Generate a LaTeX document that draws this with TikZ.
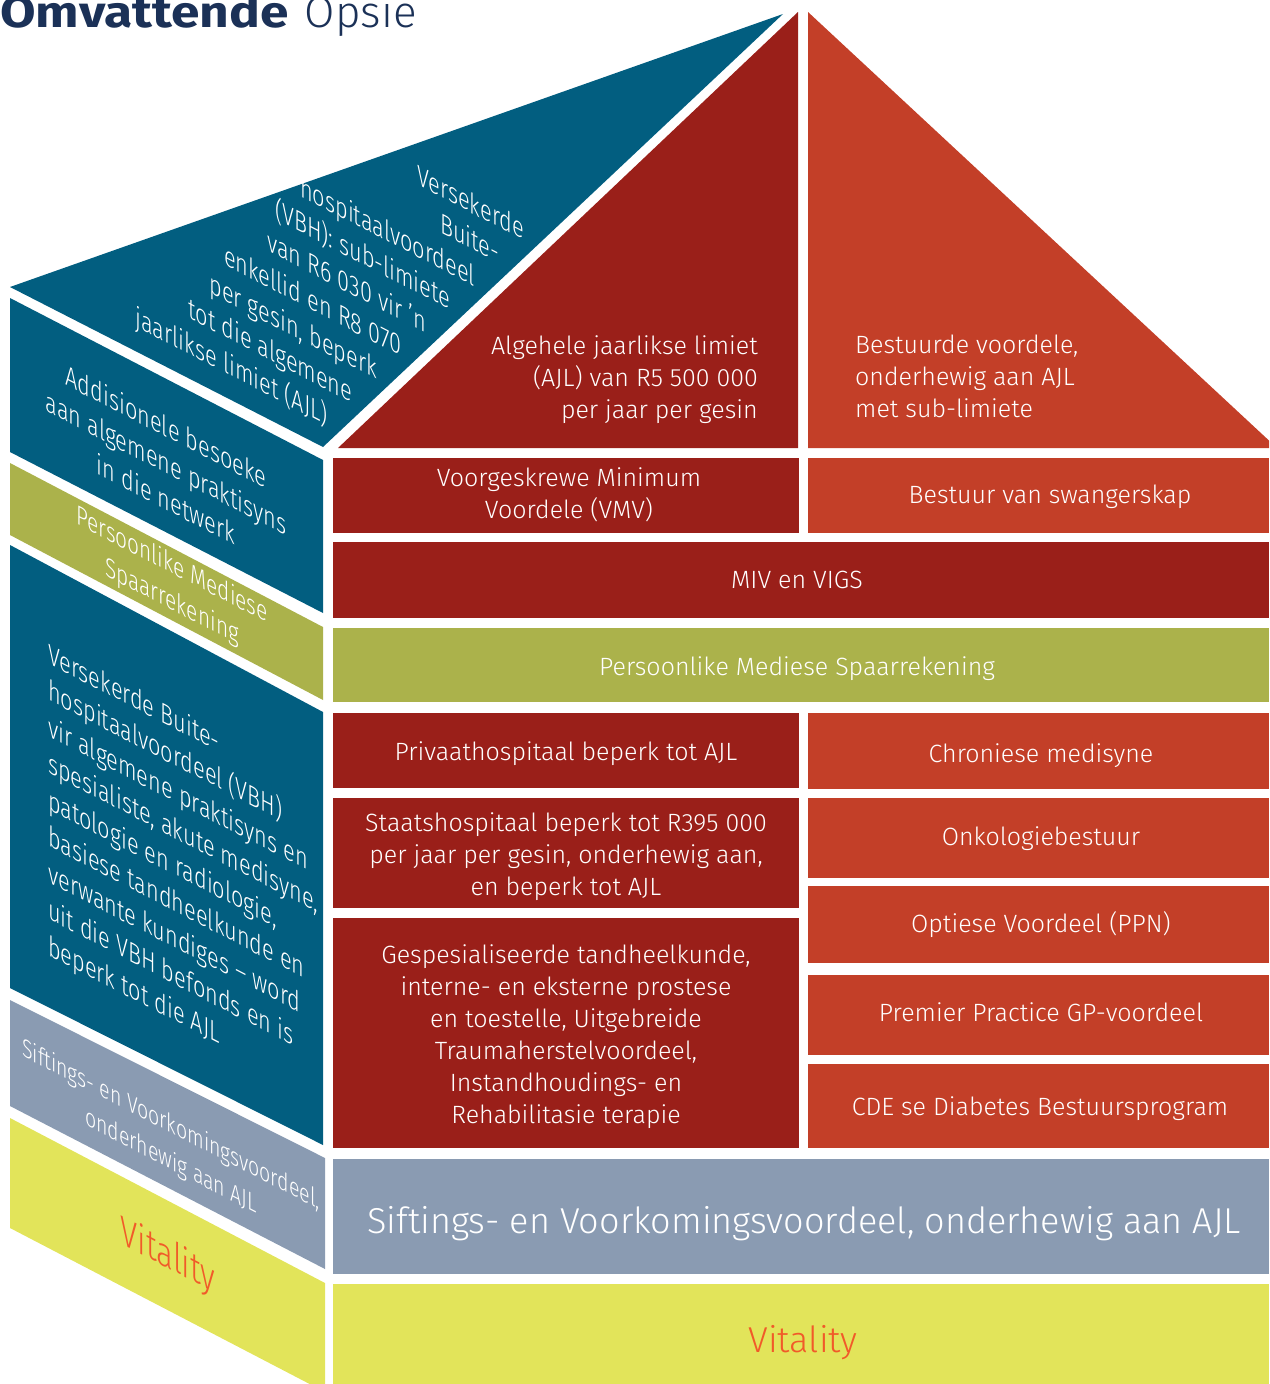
\documentclass[tikz,border=0pt]{standalone}
\usepackage{fontspec}
\IfFontExistsTF{Fira Sans Light}
  {\setmainfont{Fira Sans}[UprightFont={* Light},BoldFont={* Bold}]}
  {\setmainfont{Fira Sans}}
\definecolor{sideblue}{RGB}{2,94,128}
\definecolor{deepred}{RGB}{154,31,25}
\definecolor{brickred}{RGB}{195,63,40}
\definecolor{oliveband}{RGB}{171,178,75}
\definecolor{greyblue}{RGB}{138,155,178}
\definecolor{lemon}{RGB}{226,228,90}
\definecolor{vitorange}{RGB}{241,90,41}
\definecolor{titlenavy}{RGB}{27,49,87}
\tikzset{
  lbl/.style={text=white, inner sep=0pt, font=\fontsize{25}{32}\selectfont},
  sidelbl/.style={lbl, cm={0.87,-0.45,0,1.14,(0,0)}},
}
\begin{document}
\begin{tikzpicture}[x=1pt,y=-1pt]
\clip (0,0) rectangle (1269,1384);

% title
\node[anchor=base west, inner sep=0pt, text=titlenavy, font=\fontsize{44}{50}\selectfont]
  (title) at (0,27) {\scalebox{1.17}[1]{\bfseries Omvattende}\hspace{4pt} Opsie};

% ---- side face (left) ----
\fill[sideblue] (10,287) -- (783,14) -- (323,447) -- cycle;
\fill[sideblue] (10,298) -- (323,460) -- (323,613) -- (10,452) -- cycle;
\fill[oliveband] (10,463) -- (323,627) -- (323,700) -- (10,535) -- cycle;
\fill[sideblue] (10,545) -- (323,712) -- (323,1145) -- (10,988) -- cycle;
\fill[greyblue] (10,1000) -- (325,1158) -- (325,1269) -- (10,1106) -- cycle;
\fill[lemon] (10,1118) -- (325,1283) -- (325,1392) -- (10,1228) -- cycle;

% ---- front face ----
\fill[deepred] (338,448) -- (798,12) -- (798,448) -- cycle;
\fill[brickred] (808,12) -- (1277,448) -- (808,448) -- cycle;
\fill[deepred] (333,458) rectangle (799,533);
\fill[brickred] (808,458) rectangle (1269,533);
\fill[deepred] (333,542) rectangle (1269,618);
\fill[oliveband] (333,628) rectangle (1269,702);
\fill[deepred] (333,713) rectangle (799,788);
\fill[deepred] (333,798) rectangle (799,908);
\fill[deepred] (333,918) rectangle (799,1148);
\fill[brickred] (808,713) rectangle (1269,789);
\fill[brickred] (808,798) rectangle (1269,878);
\fill[brickred] (808,886) rectangle (1269,963);
\fill[brickred] (808,975) rectangle (1269,1055);
\fill[brickred] (808,1064) rectangle (1269,1148);
\fill[greyblue] (333,1159) rectangle (1269,1274);
\fill[lemon] (333,1284) rectangle (1269,1392);

% ---- roof text, each line stopping short of the ridge ----
\node[sidelbl, anchor=base east] (roofa) at (524,240) {Versekerde};
\node[sidelbl, anchor=base east] (roofb) at (499.5,263.25) {Buite-};
\node[sidelbl, anchor=base east] (roofc) at (475,286.5) {hospitaalvoordeel};
\node[sidelbl, anchor=base east] (roofd) at (450.5,309.75) {(VBH): sub-limiete};
\node[sidelbl, anchor=base east] (roofe) at (426,333) {van R6 030 vir ’n};
\node[sidelbl, anchor=base east] (rooff) at (401.5,356.25) {enkellid en R8 070};
\node[sidelbl, anchor=base east] (roofg) at (377,379.5) {per gesin, beperk};
\node[sidelbl, anchor=base east] (roofh) at (352.5,402.75) {tot die algemene};
\node[sidelbl, anchor=base east] (roofi) at (328,426) {jaarlikse limiet (AJL)};

% ---- side panel text ----
\node[sidelbl, align=center] (gpvisits) at (166,462.6)
  {Addisionele besoeke\\aan algemene praktisyns\\in die netwerk};
\node[sidelbl, align=center, font=\fontsize{24}{32}\selectfont] (sidemsa) at (172,584)
  {Persoonlike Mediese\\Spaarrekening};
\node[sidelbl, align=left, anchor=north west] (sideobh) at (48,641.5)
  {Versekerde Buite-\\hospitaalvoordeel (VBH)\\vir algemene praktisyns en\\spesialiste, akute medisyne,\\patologie en radiologie,\\basiese tandheelkunde en\\verwante kundiges – word\\uit die VBH befonds en is\\beperk tot die AJL};
\node[sidelbl, align=center, font=\fontsize{22.5}{32}\selectfont] (sidescreen) at (171,1144)
  {Siftings- en Voorkomingsvoordeel,\\onderhewig aan AJL};
\node[sidelbl, anchor=base, text=vitorange, font=\fontsize{36}{40}\selectfont] (sidevit) at (168,1268) {Vitality};

% ---- front text ----
\node[lbl, align=right, anchor=north east] (ajl) at (758,335)
  {Algehele jaarlikse limiet\\(AJL) van R5 500 000\\per jaar per gesin};
\node[lbl, align=left, anchor=north west] (managed) at (855,335)
  {Bestuurde voordele,\\onderhewig aan AJL\\met sub-limiete};
\node[lbl, align=center, anchor=north] (pmb) at (569,467)
  {Voorgeskrewe Minimum\\Voordele (VMV)};
\node[lbl, anchor=base] (preg) at (1050,503) {Bestuur van swangerskap};
\node[lbl, anchor=base] (hiv) at (797,588) {MIV en VIGS};
\node[lbl, anchor=base] (msa) at (797,675) {Persoonlike Mediese Spaarrekening};
\node[lbl, anchor=base] (private) at (566,760) {Privaathospitaal beperk tot AJL};
\node[lbl, align=center, anchor=north] (state) at (566,812)
  {Staatshospitaal beperk tot R395 000\\per jaar per gesin, onderhewig aan,\\en beperk tot AJL};
\node[lbl, align=center, anchor=north] (dental) at (566,944)
  {Gespesialiseerde tandheelkunde,\\interne- en eksterne prostese\\en toestelle, Uitgebreide\\Traumaherstelvoordeel,\\Instandhoudings- en\\Rehabilitasie terapie};
\node[lbl, anchor=base] (chronic) at (1041,762) {Chroniese medisyne};
\node[lbl, anchor=base] (onco) at (1041,845) {Onkologiebestuur};
\node[lbl, anchor=base] (optical) at (1041,932) {Optiese Voordeel (PPN)};
\node[lbl, anchor=base] (premier) at (1041,1021) {Premier Practice GP-voordeel};
\node[lbl, anchor=base] (diabetes) at (1040,1115) {CDE se Diabetes Bestuursprogram};
\node[lbl, anchor=base, font=\fontsize{36}{44}\selectfont] (screen) at (804,1233)
  {Siftings- en Voorkomingsvoordeel, onderhewig aan AJL};
\node[lbl, anchor=base, text=vitorange, font=\fontsize{36}{40}\selectfont] (vitality) at (803,1352) {Vitality};
\end{tikzpicture}
\end{document}
